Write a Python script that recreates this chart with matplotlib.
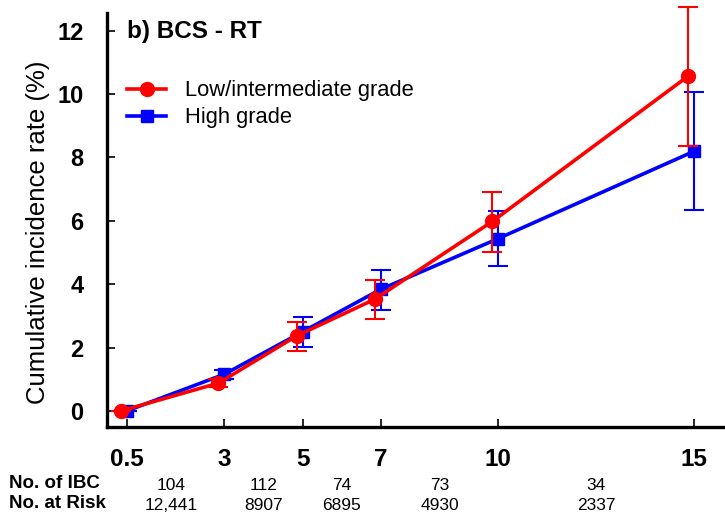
import matplotlib
matplotlib.use("Agg")
import matplotlib.pyplot as plt
from matplotlib.lines import Line2D

plt.rcParams['font.family'] = ['Liberation Sans', 'DejaVu Sans']

years = [0.5, 3, 5, 7, 10, 15]
tick_labels = ['0.5', '3', '5', '7', '10', '15']

low_rate = [0.0, 0.88, 2.37, 3.53, 5.98, 10.56]
low_lo = [0.0, 0.76, 1.90, 2.91, 5.02, 8.36]
low_hi = [0.0, 1.00, 2.82, 4.12, 6.90, 12.76]

high_rate = [0.0, 1.16, 2.50, 3.84, 5.44, 8.19]
high_lo = [0.0, 1.02, 2.02, 3.19, 4.56, 6.33]
high_hi = [0.0, 1.30, 2.98, 4.46, 6.32, 10.06]

interval_mid = [1.65, 4, 6, 8.5, 12.5]
n_ibc = ['104', '112', '74', '73', '34']
n_risk = ['12,441', '8907', '6895', '4930', '2337']

shift = -0.15  # red series drawn slightly left of the tick

fig = plt.figure(figsize=(7.25, 5.18), dpi=100)
ax = fig.add_axes([0.1476, 0.176, 0.8524, 0.799])

low_x = [y + shift for y in years]


def draw_bars(x, rate, lo, hi, color, z):
    eb = ax.errorbar(x, rate,
                     yerr=[[r - l for r, l in zip(rate, lo)],
                           [h - r for r, h in zip(rate, hi)]],
                     fmt='none', ecolor=color, elinewidth=1.5, capsize=7,
                     capthick=1.5, zorder=z)
    for part in eb.get_children():
        part.set_clip_on(False)


draw_bars(years, high_rate, high_lo, high_hi, '#0000ff', 2)
ax.plot(years, high_rate, color='#0000ff', lw=2.6, marker='s', ms=8.5, zorder=3)
draw_bars(low_x, low_rate, low_lo, low_hi, '#ff0000', 4)
ax.plot(low_x, low_rate, color='#ff0000', lw=2.6, marker='o', ms=10, zorder=5)

ax.set_xlim(0, 15.8)
ax.set_ylim(-0.5, 12.56)
ax.set_xticks(years)
ax.set_xticklabels(tick_labels)
ax.set_yticks([0, 2, 4, 6, 8, 10, 12])

for s in ['top', 'right']:
    ax.spines[s].set_visible(False)
for s in ['left', 'bottom']:
    ax.spines[s].set_linewidth(2.4)

ax.tick_params(axis='both', direction='in', length=6, width=1.2)
ax.tick_params(axis='y', pad=17)
ax.tick_params(axis='x', pad=15)
for lab in ax.get_yticklabels():
    lab.set_fontsize(17)
    lab.set_fontweight('bold')
for lab in ax.get_xticklabels():
    lab.set_fontsize(17.5)
    lab.set_fontweight('bold')

ax.set_ylabel('Cumulative incidence rate (%)', fontsize=18.5)
ax.yaxis.set_label_coords(-0.092, 0.469)

ax.text(0.033, 0.955, 'b) BCS - RT', transform=ax.transAxes, fontsize=17.5,
        fontweight='bold', va='center', ha='left')

handles = [Line2D([], [], color='#ff0000', lw=2.6, marker='o', ms=10),
           Line2D([], [], color='#0000ff', lw=2.6, marker='s', ms=8.5)]
ax.legend(handles, ['Low/intermediate grade', 'High grade'], loc='upper left',
          bbox_to_anchor=(0.0, 0.885), frameon=False, fontsize=15.8,
          handlelength=1.8, handletextpad=0.85, labelspacing=0.28)

# table of counts below the axis
fig.text(0.013, 1 - 483 / 518, 'No. of IBC', fontsize=13.5, fontweight='bold', va='center')
fig.text(0.013, 1 - 504 / 518, 'No. at Risk', fontsize=13.5, fontweight='bold', va='center')
for xm, a, b in zip(interval_mid, n_ibc, n_risk):
    xf = fig.transFigure.inverted().transform(ax.transData.transform((xm, 0)))[0]
    fig.text(xf, 1 - 485 / 518, a, fontsize=12.5, ha='center', va='center')
    fig.text(xf, 1 - 505 / 518, b, fontsize=12.5, ha='center', va='center')

fig.savefig('out.png', dpi=100)
